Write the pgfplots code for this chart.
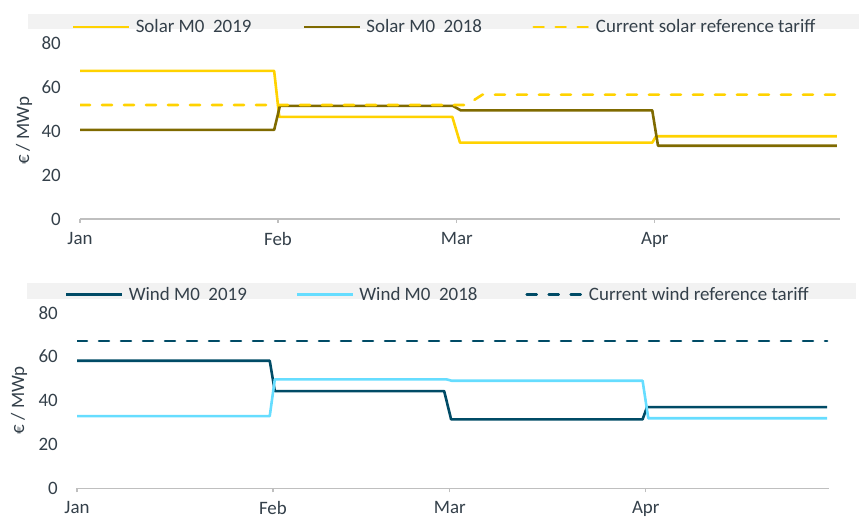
\documentclass[border=0pt]{standalone}
\usepackage{fontspec}
\setmainfont{Carlito}
\usepackage{pgfplots}
\pgfplotsset{compat=1.18}
\definecolor{solA}{HTML}{FFD200}
\definecolor{solB}{HTML}{7F6A00}
\definecolor{winA}{HTML}{004B66}
\definecolor{winB}{HTML}{66DDFF}
\definecolor{txt}{HTML}{34404A}
\definecolor{axgray}{HTML}{BFBFBF}
\definecolor{leggray}{HTML}{F2F2F2}
\pgfplotsset{
  panel/.style={
    scale only axis,
    xmin=0, xmax=119, ymin=0, ymax=80,
    axis x line*=bottom, axis y line*=left,
    x axis line style={-, draw=axgray, line width=1.2bp},
    y axis line style={draw=none},
    xtick={0,31,59,90}, xticklabels={Jan,Feb,Mar,Apr},
    ytick={0,20,40,60,80},
    tick align=outside, major tick length=4bp,
    xtick style={draw=axgray, line width=1.2bp},
    ytick style={draw=none},
    ticklabel style={font=\fontsize{19}{22}\selectfont, text=txt},
    /pgf/number format/assume math mode=true,
    yticklabel style={inner sep=0pt, anchor=east, xshift=-15bp},
    xticklabel style={inner sep=0pt, anchor=north, yshift=-9bp},
    ylabel={€ / MWp},
    ylabel style={font=\fontsize{19}{22}\selectfont, text=txt, at={(axis description cs:0,0.5)}, anchor=center},
    legend columns=3,
    legend style={draw=none, fill=none, font=\fontsize{19}{22}\selectfont, text=txt,
      at={(axis description cs:0,1)}, anchor=west,
      nodes={inner sep=0pt},
      /tikz/every odd column/.append style={column sep=5bp}},
    legend image code/.code={\draw[#1] (0bp,0bp) -- (56bp,0bp);},
    every axis plot/.append style={line width=2.6bp, line join=round},
  },
  dashy/.style={dash pattern=on 10bp off 12bp, line cap=round},
}
\begin{document}
\begin{tikzpicture}[x=1bp,y=1bp]
\useasboundingbox (0,0) rectangle (859,519);
\fill[leggray] (28,490) rectangle (859,505);
\fill[leggray] (27,220.3) rectangle (856,236.3);
\begin{axis}[panel, at={(80bp,300bp)}, anchor=south west, width=760bp, height=176bp,
  ylabel style={yshift=56bp},
  legend style={xshift=-11bp, yshift=16bp}]
\addplot[solA] coordinates {(0,67.3) (30.4,67.3) (31.2,46.4) (58.3,46.4) (59.5,34.7) (89.6,34.7) (90.2,37.6) (118.5,37.6)};
\addlegendentry{\makebox[167bp][l]{Solar M0\ \ 2019}}
\addplot[solB] coordinates {(0,40.5) (30.4,40.5) (31.3,51.4) (58.4,51.4) (59.6,49.4) (89.6,49.4) (90.5,33.3) (118.5,33.3)};
\addlegendentry{\makebox[166bp][l]{Solar M0\ \ 2018}}
\addplot[solA, dashy] coordinates {(0,51.8) (60.5,51.8) (63,56.5) (118.5,56.5)};
\addlegendentry{Current solar reference tariff}
\end{axis}
\begin{axis}[panel, at={(77bp,30.7bp)}, anchor=south west, width=752bp, height=175.6bp,
  ylabel style={yshift=58bp},
  legend style={xshift=-15bp, yshift=18bp}]
\addplot[winA] coordinates {(0,58.1) (30.5,58.1) (31.3,44.3) (58.1,44.3) (59.2,31.4) (89.5,31.4) (90.2,37.0) (118.7,37.0)};
\addlegendentry{\makebox[167bp][l]{Wind M0\ \ 2019}}
\addplot[winB] coordinates {(0,32.9) (30.5,32.9) (31.3,49.6) (58.5,49.6) (59.3,49.0) (89.5,49.0) (90.4,31.9) (118.7,31.9)};
\addlegendentry{\makebox[166bp][l]{Wind M0\ \ 2018}}
\addplot[winA, dashy] coordinates {(0,67.1) (118.7,67.1)};
\addlegendentry{Current wind reference tariff}
\end{axis}
\end{tikzpicture}
\end{document}
